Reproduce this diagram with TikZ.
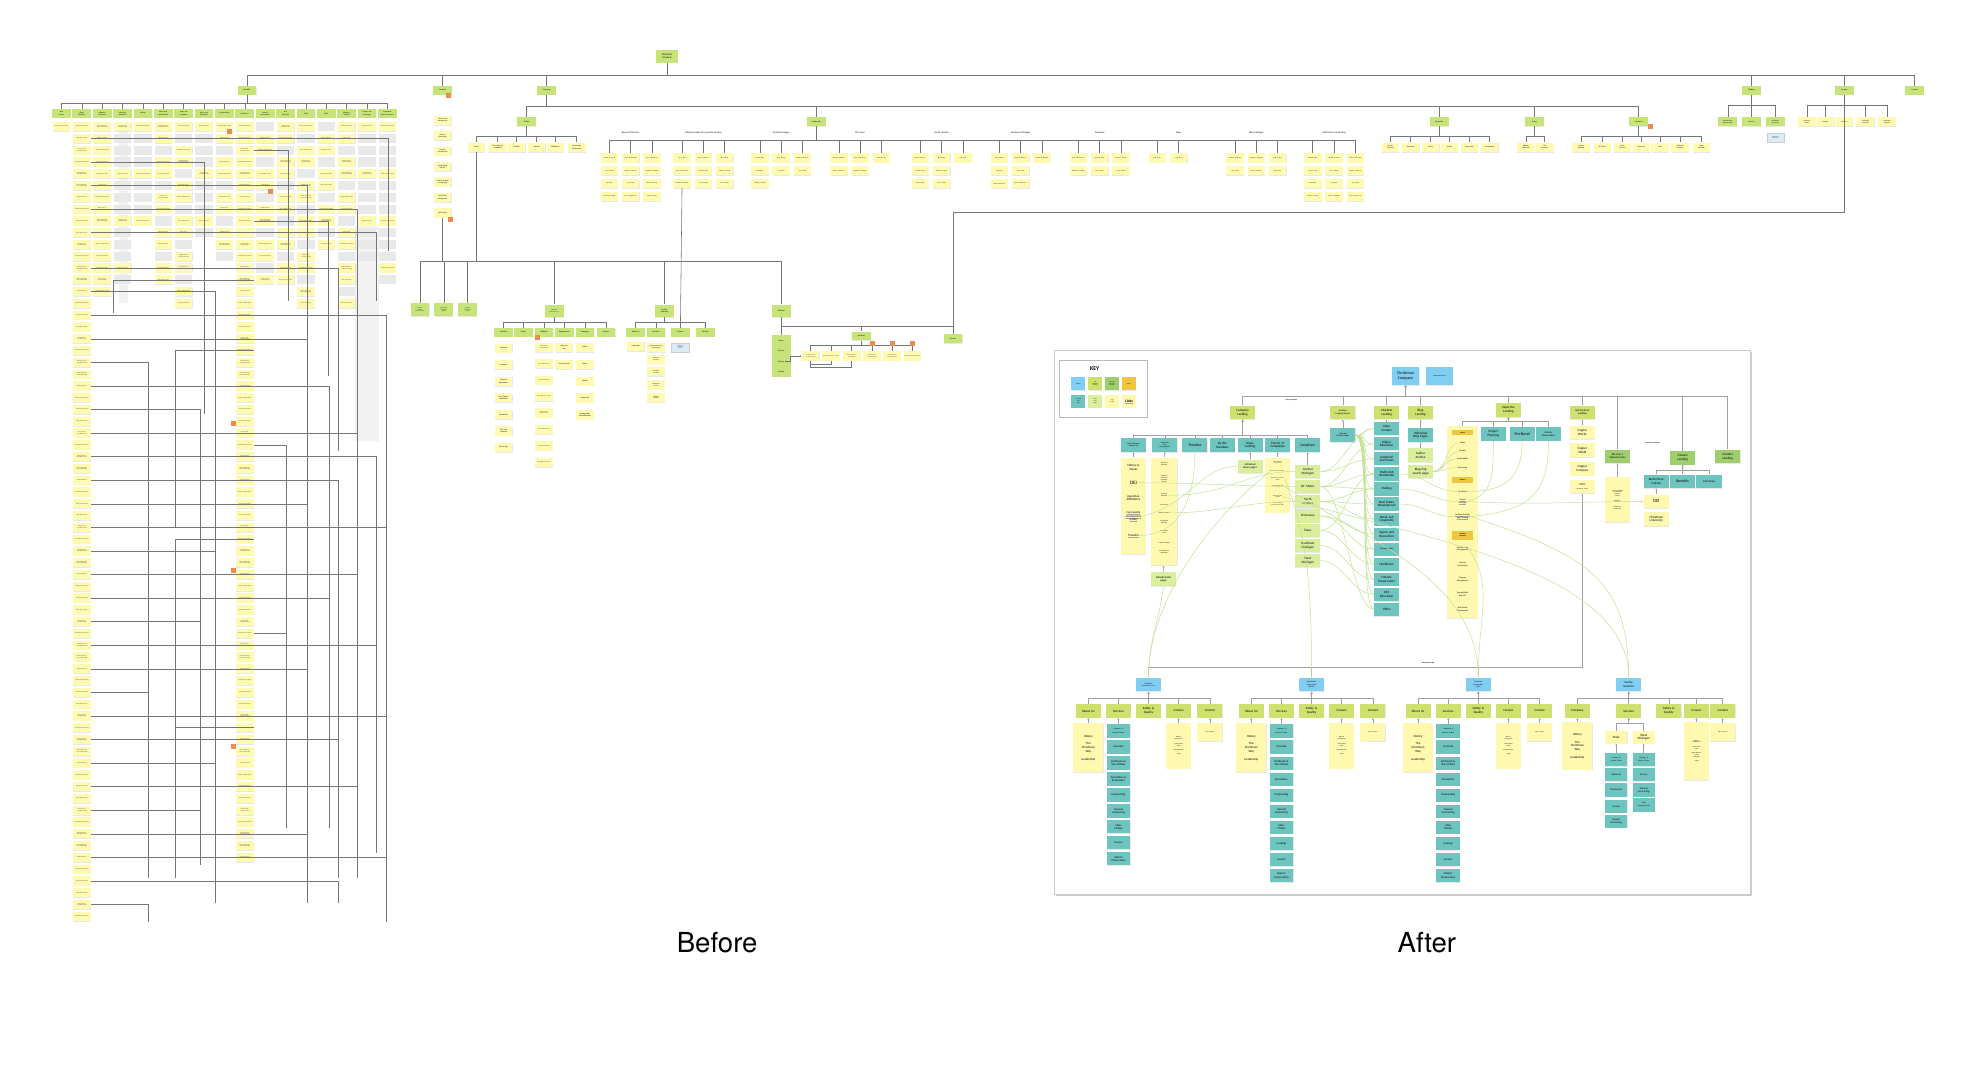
\documentclass[tikz,border=0pt]{standalone}
\usepackage{fontspec}
\setmainfont{Carlito}
\newfontfamily\captionfont{TeX Gyre Heros}
\usetikzlibrary{positioning,shadows,arrows.meta}
\definecolor{webblue}{RGB}{128,206,242}
\definecolor{toplime}{RGB}{206,224,110}
\definecolor{secgreen}{RGB}{158,206,110}
\definecolor{headgold}{RGB}{238,198,66}
\definecolor{pageteal}{RGB}{110,196,190}
\definecolor{thirdgreen}{RGB}{218,238,158}
\definecolor{contentyellow}{RGB}{255,249,176}
\definecolor{oldgreen}{RGB}{198,228,122}
\definecolor{noteyellow}{RGB}{255,250,178}
\definecolor{blankgray}{RGB}{233,233,233}
\definecolor{flagorange}{RGB}{236,140,78}
\definecolor{linkgreen}{RGB}{196,226,150}
\definecolor{wiregray}{RGB}{160,160,160}
\definecolor{oldline}{RGB}{118,118,118}
\definecolor{noticeblue}{RGB}{220,236,246}
\newcommand\thinul[1]{\setbox0=\hbox{#1}\leavevmode\rlap{\color{black!35}\rule[-0.18\ht0]{\wd0}{0.06\ht0}}\box0}

\begin{document}
\begin{tikzpicture}[x=1pt, y=-1pt,
	every node/.style={inner sep=0.3pt, align=center},
	wire/.style={draw=wiregray, line width=0.5pt},
	oldwire/.style={draw=oldline, line width=0.45pt},
	link/.style={draw=linkgreen, line width=0.4pt},
	uptip/.style={-{Stealth[length=1.5pt,width=1.5pt]}},
	paper/.style={drop shadow={shadow xshift=0.15pt, shadow yshift=-0.5pt, opacity=0.18}},
	oldnav/.style={paper, fill=oldgreen, minimum width=15, minimum height=7, text width=14.4, font=\fontsize{1.6}{1.9}\selectfont},
	oldnote/.style={paper, fill=noteyellow, minimum width=14, minimum height=7.4, text width=13.4, font=\fontsize{0.9}{1.1}\selectfont},
	oldblank/.style={fill=blankgray, minimum width=14, minimum height=7.4},
	flag/.style={fill=flagorange, minimum width=4, minimum height=4, inner sep=0pt},
	newnode/.style={paper, minimum width=20, minimum height=11, text width=19.4, font=\fontsize{2.6}{3}\selectfont},
	website/.style={newnode, fill=webblue},
	topland/.style={newnode, fill=toplime},
	secland/.style={newnode, fill=secgreen},
	stdpage/.style={newnode, fill=pageteal},
	thirdpage/.style={newnode, fill=thirdgreen},
	pagetext/.style={newnode, fill=contentyellow},
	headtag/.style={fill=headgold, minimum width=17, minimum height=4.5, text width=16.4, font=\fontsize{1.2}{1.4}\selectfont\bfseries},
	keychip/.style={paper, minimum width=11, minimum height=10, text width=10.4, font=\fontsize{1.1}{1.3}\selectfont},
	listtext/.style={font=\fontsize{1.7}{2}\selectfont},
	tinytext/.style={font=\fontsize{1.1}{1.3}\selectfont}]

\fill[white] (0,0) rectangle (1568,849);
\useasboundingbox (0,0) rectangle (1568,849);

\fill[blankgray!60] (95,98) rectangle (102,242);
\fill[blankgray!60] (283,180) rectangle (302,352);

\node[oldnav, minimum width=17, minimum height=10, text width=16, font=\fontsize{2}{2.4}\selectfont] (root) at (532,45) {Christman\\Company};
\node[oldnav] (portfolio) at (197,72) {Portfolio};
\node[oldnav] (oldservices) at (353,72) {Services};
\node[oldnav] (company) at (436,72) {Company};
\node[oldnav] (bidding) at (1397,72) {Bidding};
\node[oldnav] (careers) at (1471,72) {Careers};
\node[oldnav] (contact) at (1527,72) {Contact};
\coordinate (rootbus) at (532,60);
\foreach \n in {portfolio,oldservices,company,bidding,careers,contact}
	\draw[oldwire] (root) -- (rootbus) -| (\n);

\coordinate (pfbus) at (197,82);
\foreach \lbl [count=\i] in {Data\\Centers, Higher\\Education, Industrial\\and Power, Multi-Unit\\Residential, Parking, Real Estate\\Development, Retail and\\Hospitality, Sports and\\Recreation, Transportation, Healthcare, Historic\\Preservation, K12\\Education, Office, Public, Religious/\\Cultural, Science and\\Technology, Sustainable\\High Performance}{
	\node[oldnav, font=\fontsize{1.4}{1.7}\selectfont] (pf\i) at ({49+16.25*(\i-1)},90.5) {\lbl};
	\draw[oldwire] (portfolio) -- (pfbus) -| (pf\i);
}
\foreach \col/\n/\mix in {1/1/0, 2/68/0, 3/15/0, 4/14/2, 5/9/2, 6/14/1, 7/16/1, 8/10/2, 9/12/1, 10/63/0, 11/14/1, 12/14/1, 13/16/1, 14/11/1, 15/16/1, 16/12/2, 17/14/2}{
	\foreach \row in {1,...,\n}{
		\pgfmathtruncatemacro\ga{mod(\row+\col,3)==0}
		\pgfmathtruncatemacro\gb{mod(\row,4)!=1}
		\pgfmathtruncatemacro\isgray{(\mix==1)*\ga+(\mix==2)*\gb}
		\pgfmathsetmacro\pname{{"Central Michigan University Science Building","Michigan State University Residence Hall","Grand Rapids Public Museum","Lansing Community College Campus","Detroit Medical Campus","State Capitol Restoration","Northern Michigan Hospital","Regional Data Center"}[int(mod(\row*7+\col*3,8))]}
		\ifnum\isgray=1
			\node[oldblank] (pf\col-\row) at ({49+16.25*(\col-1)},{101+9.4*(\row-1)}) {};
		\else
			\node[oldnote] (pf\col-\row) at ({49+16.25*(\col-1)},{101+9.4*(\row-1)}) {\pname};
		\fi
	}
}
\foreach \row/\xe/\ye in {2/310/200, 4/163/330, 6/245/300, 8/285/420, 10/300/240, 13/270/360, 15/172/520, 17/308/735, 19/245/720, 21/118/690, 23/263/660, 25/160/690, 27/285/700, 29/300/650, 31/270/700, 33/245/560, 35/308/600, 37/172/720, 39/285/640, 41/263/600, 43/160/620, 45/300/680, 47/245/700, 49/118/700, 51/308/720, 53/270/690, 55/172/690, 57/285/700, 59/160/690, 61/245/720, 63/308/735, 65/270/720, 67/118/735}
	\draw[oldwire] (pf2-\row.east) -| (\xe,\ye);
\foreach \row/\xe/\ye in {3/230/240, 9/262/300, 14/90/250, 20/140/420, 28/228/520, 36/140/600, 44/228/660, 52/140/700}
	\draw[oldwire] (pf10-\row.east) -| (\xe,\ye);

\foreach \lbl [count=\i] in {Construction\\Management, General\\Contracting, Program\\Management, Design/Build\\and EPC, Facilities Analysis\\and Planning, Real Estate\\Development, Self-Perform}
	\node[oldnote, font=\fontsize{1.4}{1.7}\selectfont] (svc\i) at (353,{96+12.3*(\i-1)}) {\lbl};

\node[oldnav] (profile) at (420,97) {Profile};
\node[oldnav] (leadership) at (651,97) {Leadership};
\node[oldnav] (expertise) at (1148,97) {Expertise};
\node[oldnav] (news) at (1224,97) {News};
\node[oldnav] (oldlocations) at (1307,97) {Locations};
\coordinate (cobus0) at (436,84.5);
\foreach \n in {profile,leadership,expertise,news,oldlocations}
	\draw[oldwire] (company) -- (cobus0) -| (\n);

\coordinate (prbus) at (420,109);
\foreach \lbl/\x/\id in {Values/380/values, Our Family of\\Companies/397/ourfamily, Timeline/412/oldtimeline, Awards/428/awards, Affiliations/443/affil, Community\\Involvement/460/community}{
	\node[oldnote, font=\fontsize{1.5}{1.8}\selectfont] (\id) at (\x,117.5) {\lbl};
	\draw[oldwire] (profile) -- (prbus) -| (\id);
}
\coordinate (exbus0) at (1148,109);
\foreach \lbl/\x/\id in {Project\\Planning/1109/oex1, Innovation/1125/oex2, Safety/1141/oex3, Quality/1156/oex4, Partnership/1172/oex5, Sustainability/1188/oex6}{
	\node[oldnote, font=\fontsize{1.4}{1.7}\selectfont] (\id) at (\x,117.5) {\lbl};
	\draw[oldwire] (expertise) -- (exbus0) -| (\id);
}
\coordinate (nwbus0) at (1224,109);
\foreach \lbl/\x/\id in {Building\\Healthcare/1217/onw1, The\\Essentials/1232/onw2}{
	\node[oldnote, font=\fontsize{1.4}{1.7}\selectfont] (\id) at (\x,117.5) {\lbl};
	\draw[oldwire] (news) -- (nwbus0) -| (\id);
}
\coordinate (lcbus0) at (1307,109);
\foreach \lbl/\x/\id in {Central\\Michigan/1261/olc1, DC Metro/1278/olc2, North\\Carolina/1294/olc3, Tennessee/1309/olc4, Texas/1324/olc5, Southeast\\Michigan/1340/olc6, West\\Michigan/1357/olc7}{
	\node[oldnote, font=\fontsize{1.4}{1.7}\selectfont] (\id) at (\x,117.5) {\lbl};
	\draw[oldwire] (oldlocations) -- (lcbus0) -| (\id);
}
\coordinate (bdbus0) at (1397,84);
\foreach \lbl/\x/\id in {Subcontractor\\Opportunities/1378/obd1, Diversity/1397/obd2, Disciplines\\and Forms/1416/obd3}{
	\node[oldnav, font=\fontsize{1.3}{1.6}\selectfont] (\id) at (\x,97) {\lbl};
	\draw[oldwire] (bidding) -- (bdbus0) -| (\id);
}
\node[oldnote, fill=noticeblue, draw=gray!40, line width=0.2pt] (bidportal) at (1416,110) {Subcontractor\\Prequalification};
\coordinate (crbus0) at (1471,84);
\foreach \lbl/\x/\id in {Christman\\Culture/1441/ocr1, Benefits/1456/ocr2, Diversity/1471/ocr3, Christman\\University/1488/ocr4, Internship\\Program/1505/ocr5}{
	\node[oldnote, font=\fontsize{1.3}{1.6}\selectfont] (\id) at (\x,97) {\lbl};
	\draw[oldwire] (careers) -- (crbus0) -| (\id);
}

\coordinate (ldbus) at (651,112);
\foreach \cx/\lbl/\counts [count=\g] in {503/Board of Directors/{4,4,4}, 561/Industry Leaders \& Corporate Services/{3,3,3}, 623/Central Michigan/{3,2,2}, 686/DC Metro/{2,2,1}, 751/North Carolina/{3,3,1}, 814/Southeast Michigan/{3,3,1}, 877/Tennessee/{2,2,2}, 940/Texas/{1,1}, 1002/West Michigan/{2,2,2}, 1064/Self-Perform Leadership/{4,4,4}}{
	\node[font=\fontsize{1.9}{2.2}\selectfont] (ldlabel\g) at (\cx,106) {\lbl};
	\foreach \n [count=\k] in \counts {
		\foreach \row in {1,...,\n}{
			\pgfmathsetmacro\pname{{"Steven R. Roznowski","Douglas L. Parker P.E.","Jay H. Smith","Ryan J. Anderson P.E.","Matthew T. Chappelle","Marty B. Gibbs P.E.","Ronald D. Staley","Sean M. Jagels","Brian Kayser","Anthony A. Paschal","Troy E. Mueller","Craig Smith"}[int(mod(\g*5+\k*3+\row,12))]}
			\node[oldnote, font=\fontsize{1.1}{1.3}\selectfont] (ld-\g-\k-\row) at ({\cx+17*(\k-2)},{126+10.2*(\row-1)}) {\pname};
		}
		\draw[oldwire] (leadership) -- (ldbus) -| (ld-\g-\k-1);
	}
}

\coordinate (fambus) at (380,208);
\node[oldnav, minimum height=10, font=\fontsize{1}{1.2}\selectfont] (cbig) at (335,247) {Christman\\Building\\Innovation Group};
\node[oldnav, minimum height=10, font=\fontsize{1}{1.2}\selectfont] (dmacold) at (354,247) {Mid-Atlantic\\Construction\\(DMAC)};
\node[oldnav, minimum height=10, font=\fontsize{1}{1.2}\selectfont] (csciold) at (373,247) {Southeast\\Construction\\(CSCI)};
\node[oldnav, minimum height=10, font=\fontsize{1.1}{1.3}\selectfont] (cciold) at (442,248) {Christman\\Constructors, Inc.};
\node[oldnav, minimum height=10] (fsold) at (530,248) {Facility\\Solutions};
\node[oldnav, minimum height=10] (millwork) at (623,248) {Millwork};
\foreach \n in {cbig,dmacold,csciold,cciold,fsold,millwork}
	\draw[oldwire] (values) -- (fambus) -| (\n);
\draw[oldwire] (svc7) |- (fambus);

\coordinate (ccibus0) at (442,257);
\foreach \lbl/\x/\id in {Services/401.6/osvc, Safety/417.3/osafety, Portfolio/433.8/oportfolio, Employment/450/oemploy, Company/466.5/ocompany, Contact/483.3/ocontact}{
	\node[oldnav] (\id) at (\x,265) {\lbl};
	\draw[oldwire] (cciold) -- (ccibus0) -| (\id);
}
\foreach \lbl [count=\i] in {Concrete, Carpentry, Concrete\\Restoration, Mass Timber\\Installation, Demolition, Civil and\\Sitework, Service Ops}
	\node[oldnote, font=\fontsize{1.5}{1.8}\selectfont] (osvc\i) at (401.6,{277.7+13.2*(\i-1)}) {\lbl};
\foreach \i in {1,...,8}{
	\pgfmathsetmacro\pname{{"Grand Rapids Public Museum","Lansing Community College Campus","Detroit Medical Campus","State Capitol Restoration"}[int(mod(\i,4))]}
	\node[oldnote] (oport\i) at (433.8,{277+13.1*(\i-1)}) {\pname};
}
\node[oldnote, font=\fontsize{1.5}{1.8}\selectfont] (oemploy1) at (450,277) {Apply for\\Jobs};
\node[oldnote, font=\fontsize{1.3}{1.6}\selectfont] (oemploy2) at (450,290.5) {Apprenticeships};
\foreach \lbl [count=\i] in {History, Values, Quality, Leadership, Memberships\\and Affiliations}
	\node[oldnote, font=\fontsize{1.5}{1.8}\selectfont] (ocomp\i) at (466.5,{277+13.5*(\i-1)}) {\lbl};

\coordinate (fsbus0) at (530,257);
\foreach \lbl/\x/\id in {About Us/507/ofsabout, Services/523.2/ofssvc, Careers/542.6/ofscareers, Contact/562.5/ofscontact}{
	\node[oldnav] (\id) at (\x,265) {\lbl};
	\draw[oldwire] (fsold) -- (fsbus0) -| (\id);
}
\node[oldnote, font=\fontsize{1.4}{1.7}\selectfont] (ofslead) at (507,276.3) {Leadership};
\foreach \lbl/\y [count=\i] in {Mechanical Electrical\\and Plumbing/277, Electrical\\Services/286.5, Plumbing\\Services/296.5, Mechanical\\Services/307, Welding\\Services/317}
	\node[oldnote, font=\fontsize{1.2}{1.4}\selectfont] (ofssvc\i) at (523.2,\y) {\lbl};
\node[oldnote, fill=noticeblue, draw=gray!40, line width=0.2pt] (ofsopen) at (542.6,277) {Current Facility\\Solutions\\Openings};
\draw[oldwire] (ld-2-1-3) -- (ofscareers);

\node[oldnav, minimum height=33] (mwlist) at (623,284) {};
\foreach \lbl/\y [count=\i] in {About/272, Services/280, Projects/288.3, Contact/296.2}
	\node[font=\fontsize{1.6}{1.9}\selectfont] (mw\i) at (623,\y) {\lbl};
\coordinate (mwbus) at (623,260.5);
\node[oldnav] (mwportfolio) at (687,268) {Portfolio};
\node[oldnav] (careers2) at (760,270) {Careers};
\draw[oldwire] (millwork) -- (mwlist);
\draw[oldwire] (millwork) -- (mwbus) -| (mwportfolio);
\draw[oldwire] (millwork) -- (mwbus) -| (careers2);
\coordinate (crdrop) at (1471,169);
\draw[oldwire] (careers) -- (crdrop) -| (careers2);
\coordinate (mwpbus) at (687,275.7);
\foreach \x [count=\i] in {646.5,662.8,679.3,695.5,711.5,727.7}{
	\pgfmathsetmacro\pname{{"Grand Rapids Public Museum casework","Lansing Community College interiors","Detroit Medical Campus millwork","State Capitol Restoration woodwork"}[int(mod(\i,4))]}
	\node[oldnote] (mwp\i) at (\x,284) {\pname};
	\draw[oldwire] (mwportfolio) -- (mwpbus) -| (mwp\i);
}
\draw[oldwire, uptip] (mw3.east) -- ++(4,0) |- (mwp1.west);
\draw[oldwire] (mwp1.south) -- ++(0,3) -| (mwp2.south);
\draw[oldwire] (mwp1.south) -- ++(0,5) -| (mwp3.south);

\foreach \x/\y [count=\i] in {358/76, 1316/101, 183/105, 216/153, 186/338, 186/455, 186/595, 359/175, 429/269, 695.5/274, 711.5/274, 727.7/274}
	\node[flag] (flag\i) at (\x,\y) {};

\node[font=\captionfont\fontsize{22}{26}\selectfont] (beforelabel) at (572,752) {Before};
\node[font=\captionfont\fontsize{22}{26}\selectfont] (afterlabel) at (1138,752) {After};

\node[draw=gray!40, fill=white, minimum width=555, minimum height=434, drop shadow={opacity=0.4, shadow xshift=1.2pt, shadow yshift=-1.8pt}] (afterframe) at (1118.5,496) {};

\node[draw=gray!55, fill=white, minimum width=70, minimum height=46] (keybox) at (880,310) {};
\node[font=\fontsize{4.6}{5}\selectfont\bfseries] (keytitle) at (873,294) {KEY};
\node[keychip, fill=webblue] (key1) at (860,306) {Website};
\node[keychip, fill=toplime] (key2) at (873.5,306) {Top\\Navigation\\Landings};
\node[keychip, fill=secgreen] (key3) at (887,306) {Secondary\\Navigation\\Landings};
\node[keychip, fill=headgold] (key4) at (900.5,306) {Header};
\node[keychip, fill=pageteal] (key5) at (860,320) {Standard\\land\\page};
\node[keychip, fill=thirdgreen] (key6) at (873.5,320) {Third\\level\\page};
\node[keychip, fill=contentyellow] (key7) at (887,320) {Page\\Content};
\node[keychip, fill=contentyellow, font=\fontsize{3}{3.4}\selectfont\bfseries] (key8) at (900.5,320) {\thinul{Links}};

\node[website, minimum width=22, minimum height=14, text width=21, font=\fontsize{3.2}{3.7}\selectfont] (site) at (1121,300) {Christman\\Company};
\node[website, minimum width=21, minimum height=14, font=\fontsize{1.4}{1.6}\selectfont] (siteurl) at (1148,300) {christmanco.com};
\coordinate (mainbus) at (1121,316);
\node[font=\fontsize{1.3}{1.5}\selectfont\bfseries] (mainnav) at (1030,319) {Main Navigation};
\node[font=\fontsize{1.3}{1.5}\selectfont\bfseries] (secnav) at (1318,353) {Secondary Navigation};

\node[topland] (companyland) at (991,329) {Company\\Landing};
\node[topland, font=\fontsize{1.8}{2.1}\selectfont] (portland) at (1071,329) {Portfolio\\Landing/Search};
\node[topland] (marketland) at (1106,329) {Markets\\Landing};
\node[topland] (blogland) at (1133,329) {Blog\\Landing};
\node[topland] (expland) at (1203,327) {Expertise\\Landing};
\node[topland, font=\fontsize{2.2}{2.6}\selectfont] (selfland) at (1262,329) {Self-Perform\\Landing};
\node[secland, font=\fontsize{2.2}{2.6}\selectfont] (subland) at (1290,364) {Become a\\Subcontractor};
\node[secland] (careerland) at (1342,365) {Careers\\Landing};
\node[secland] (contactland) at (1378,364) {Contact\\Landing};
\foreach \n in {companyland,portland,marketland,blogland,expland,selfland,subland,careerland,contactland}
	\draw[wire, uptip] (\n) |- (mainbus) -- (site);

\coordinate (cobus) at (991,347);
\node[stdpage, font=\fontsize{1.7}{2}\selectfont] (ourco) at (904,355) {Our Company\\(About us)};
\node[stdpage, font=\fontsize{1.4}{1.7}\selectfont] (leadland) at (929,355) {Leadership\\Team\\Landing/Search};
\node[stdpage, font=\fontsize{3}{3.4}\selectfont] (timeline) at (953,355) {Timeline};
\node[stdpage] (bynumbers) at (975,355) {By the\\Numbers};
\node[stdpage] (newsland) at (997,355) {News\\Landing};
\node[stdpage] (familyco) at (1019,355) {Family of\\Companies};
\node[stdpage, font=\fontsize{3}{3.4}\selectfont] (locations) at (1043,355) {Locations};
\foreach \n in {ourco,leadland,timeline,bynumbers,newsland,familyco,locations}
	\draw[wire, uptip] (\n) |- (cobus) -- (companyland);

\node[pagetext, minimum height=77] (aboutbox) at (904,403.5) {};
\node[font=\fontsize{2.5}{2.9}\selectfont] (ab1) at (904,373) {History \&\\Values};
\node[font=\fontsize{4}{4.4}\selectfont] (ab2) at (904,385) {DEI};
\node[font=\fontsize{2.5}{2.9}\selectfont] (ab3) at (904,397) {Awards \&\\Affiliations};
\node[font=\fontsize{2.3}{2.7}\selectfont] (ab4) at (904,412) {\thinul{Community}\\\thinul{Involvement}\\\thinul{(cards)}};
\node[font=\fontsize{2.5}{2.9}\selectfont] (ab5) at (904,427) {\thinul{Timeline}};
\draw[wire, uptip] (aboutbox) -- (ourco);

\node[pagetext, minimum width=21, minimum height=86] (leadbox) at (928.5,408) {};
\foreach \lbl/\y [count=\i] in {• Board of\\Directors/370, • Industry\\Leaders \&\\Corporate\\Services/382, • Central\\Michigan/395, • DC Metro/403, • North Carolina/409, • Southeast\\Michigan/416, • Tennessee\\Texas/424, • West Michigan/433, • Self-Perform\\Leadership/440}
	\node[font=\fontsize{1.3}{1.6}\selectfont] (ls\i) at (928.5,\y) {\lbl};
\draw[wire, uptip] (leadbox) -- (leadland);
\node[thirdpage, font=\fontsize{2.2}{2.6}\selectfont] (bio) at (928,462) {Individual Bio\\pages};
\draw[wire, uptip] (bio) -- (leadbox);

\node[thirdpage, font=\fontsize{2.2}{2.6}\selectfont] (inews) at (997,372) {Individual\\News pages};
\draw[wire, uptip] (inews) -- (newsland);
\node[pagetext, minimum height=44] (familybox) at (1019,387) {};
\foreach \lbl/\y [count=\i] in {Christman Capital\\Development/369, Christman Constructors Inc./376, Mid-Atlantic Construction\\(DMAC)/382, Southeast Construction\\(CSCI)/388, Christman Facility\\Solutions/396, Christman Building\\Innovation Group (CBIG)/402}
	\node[font=\fontsize{1}{1.2}\selectfont] (fm\i) at (1019,\y) {\lbl};
\draw[wire, uptip] (familybox) -- (familyco);
\foreach \lbl/\y [count=\i] in {Central\\Michigan/376, DC Metro/388, North\\Carolina/400, Tennessee/411.5, Texas/423, Southeast\\Michigan/435, West\\Michigan/447}
	\node[thirdpage, minimum height=10.5] (loc\i) at (1043,\y) {\lbl};
\draw[wire, uptip] (loc1) -- (locations);

\node[stdpage, font=\fontsize{1.6}{1.9}\selectfont] (ipp) at (1071,347) {Individual\\Portfolio Pages};
\draw[wire, uptip] (ipp) -- (portland);
\foreach \lbl [count=\i] in {Data\\Centers, Higher\\Education, Industrial\\and Power, Multi-Unit\\Residential, Parking, Real Estate\\Development, Retail and\\Hospitality, Sports and\\Recreation, {\fontsize{1.8}{2}\selectfont Transportation}, Healthcare, Historic\\Preservation, K12\\Education, Office}
	\node[stdpage, minimum height=10.5] (mk\i) at (1106,{342+12*(\i-1)}) {\lbl};
\draw[wire] (mk1) -- (marketland);

\node[stdpage] (ibp) at (1133,347) {Individual\\Blog Pages};
\node[thirdpage] (author) at (1133,363) {Author\\Archive};
\node[thirdpage] (blogsearch) at (1133,376) {Blog/Tag\\search page};
\draw[wire, uptip] (ibp) -- (blogland);
\draw[wire, uptip] (author) -- (ibp);

\coordinate (expbus) at (1203,336);
\node[stdpage] (pp) at (1191,346) {Project\\Planning};
\node[stdpage, font=\fontsize{3.2}{3.6}\selectfont] (pb) at (1214,346) {Pre-Bond};
\node[stdpage, font=\fontsize{2}{2.4}\selectfont] (hp) at (1235,346) {Historic\\Preservation};
\node[pagetext, minimum width=25, minimum height=153] (expbox) at (1166.5,416.5) {};
\foreach \n in {pp,pb,hp,expbox}
	\draw[wire, uptip] (\n) |- (expbus) -- (expland);
\node[headtag] (ex1) at (1166.5,345) {VALUES};
\node[listtext] (ex2) at (1166.5,353) {Safety};
\node[listtext] (ex3) at (1166.5,360) {Quality};
\node[listtext] (ex4) at (1166.5,366) {Sustainability};
\node[listtext] (ex5) at (1166.5,373) {Partnering};
\node[headtag] (ex6) at (1166.5,383) {SUPPORT};
\node[listtext] (ex7) at (1166.5,392) {Pre-Bond};
\node[listtext] (ex8) at (1166.5,400) {\thinul{Project}\\\thinul{Planning}};
\node[listtext] (ex9) at (1166.5,412) {\thinul{Facilities Analysis}\\\thinul{and Planning}};
\node[headtag, minimum height=7] (ex10) at (1166.5,427) {DELIVERY\\METHODS};
\node[listtext] (ex11) at (1166.5,438) {Construction\\Management};
\node[listtext] (ex12) at (1166.5,450) {General\\Contracting};
\node[listtext] (ex13) at (1166.5,462) {Program\\Management};
\node[listtext] (ex14) at (1166.5,474) {Design/Build\\and EPC};
\node[listtext] (ex15) at (1166.5,486) {Real Estate\\Development};

\foreach \lbl/\y [count=\i] in {Copper\\Works/345, Copper\\Shield/359, Copper\\Compass/374, {\fontsize{1.2}{1.4}\selectfont Christman\\Building\\Innovation Group}/388}
	\node[pagetext] (sp\i) at (1262,\y) {\lbl};
\draw[wire, uptip] (sp1) -- (selfland);

\node[pagetext, minimum height=36, font=\fontsize{1.2}{1.5}\selectfont] (subbox) at (1290,398.5) {Get Pre-qualified\\(Prequalified)\\Regional\\Contacts\\[2pt]Commit to\\Diversity\\[2pt]Documents\\\& Bid Portal};
\draw[wire, uptip] (subbox) -- (subland);

\coordinate (crbus) at (1342,375);
\node[stdpage] (bmc) at (1321,384) {Build More\\Culture};
\node[stdpage, font=\fontsize{3}{3.4}\selectfont] (benefits) at (1342,384) {Benefits};
\node[stdpage, font=\fontsize{2.2}{2.6}\selectfont] (interns) at (1363,384) {Internships};
\foreach \n in {bmc,benefits,interns}
	\draw[wire, uptip] (\n) |- (crbus) -- (careerland);
\node[pagetext, font=\fontsize{3.6}{4}\selectfont] (dei) at (1321,400) {DEI};
\node[pagetext] (cu) at (1321,414) {Christman\\University};
\draw[wire, uptip] (dei) -- (bmc);

\node[font=\fontsize{1.3}{1.5}\selectfont\bfseries] (indpages) at (1139,529) {Independent Pages};
\coordinate (indbus) at (1262,532);
\node[website, font=\fontsize{1.5}{1.8}\selectfont] (cci) at (916,546) {Christman\\Constructors, Inc.};
\node[website, font=\fontsize{1.5}{1.8}\selectfont] (dmac) at (1046,546) {Mid-Atlantic\\Construction\\(DMAC)};
\node[website, font=\fontsize{1.5}{1.8}\selectfont] (csci) at (1179,546) {Southeast\\Construction\\(CSCI)};
\node[website, font=\fontsize{2.3}{2.7}\selectfont] (fsol) at (1299,546) {Facility\\Solutions};
\foreach \n in {cci,dmac,csci}
	\draw[wire] (sp4) -- (indbus) -| (\n);

\foreach \co/\cx in {cci/916, dmac/1046, csci/1179}{
	\coordinate (\co bus) at (\cx,557);
	\foreach \lbl/\dx/\id in {About Us/-48/about, Services/-24/svc, Safety \&\\Quality/0/safety, Careers/24/careers, Contact/49/contact}{
		\node[topland] (\co-\id) at ({\cx+\dx},567) {\lbl};
		\draw[wire, uptip] (\co-\id) |- (\co bus) -- (\co);
	}
	\node[pagetext, minimum width=24, minimum height=39, font=\fontsize{2.5}{3}\selectfont] (\co-aboutbox) at ({\cx-48},596.5) {History\\[3pt]The\\Christman\\Way\\[3pt]Leadership};
	\draw[wire, uptip] (\co-aboutbox) -- (\co-about);
	\node[pagetext, minimum width=19, minimum height=36, font=\fontsize{1.2}{1.5}\selectfont] (\co-careerbox) at ({\cx+24},595) {Office \&\\Management\\[2pt]Union Skilled\\Trades\\[2pt]Apprenticeships\\[2pt]+ Apply};
	\draw[wire, uptip] (\co-careerbox) -- (\co-careers);
	\node[pagetext, minimum width=18, minimum height=14, font=\fontsize{1.1}{1.3}\selectfont] (\co-contactbox) at ({\cx+49},584) {Office Locations};
	\draw[wire, uptip] (\co-contactbox) -- (\co-contact);
}
\foreach \lbl [count=\i] in {{\fontsize{1.5}{1.8}\selectfont Carpentry \&\\General Trades}, Concrete, Earthwork \&\\Site Utilities, Demolition \&\\Restoration, Fireproofing, General\\Contracting, Mass\\Timber, Service, Historic\\Preservation}
	\node[stdpage, minimum width=19, text width=18.4, minimum height=10.5, font=\fontsize{2.2}{2.6}\selectfont] (cci-s\i) at (892,{583+12.75*(\i-1)}) {\lbl};
\draw[wire, uptip] (cci-s1) -- (cci-svc);
\foreach \co/\sx in {dmac/1022, csci/1155}{
	\foreach \lbl [count=\i] in {{\fontsize{1.5}{1.8}\selectfont Carpentry \&\\General Trades}, Concrete, Earthwork \&\\Site Utilities, Demolition, Fireproofing, General\\Contracting, Mass\\Timber, Coatings, Service, Historic\\Preservation}
		\node[stdpage, minimum width=19, text width=18.4, minimum height=10.5, font=\fontsize{2.2}{2.6}\selectfont] (\co-s\i) at (\sx,{583+12.8*(\i-1)}) {\lbl};
	\draw[wire, uptip] (\co-s1) -- (\co-svc);
}

\coordinate (fsbus) at (1299,557);
\foreach \lbl/\x/\id in {Company/1258/company, Services/1299/svc, Safety \&\\Quality/1331/safety, Careers/1353/careers, Contact/1374/contact}{
	\node[topland] (fs-\id) at (\x,567) {\lbl};
	\draw[wire, uptip] (fs-\id) |- (fsbus) -- (fsol);
}
\node[pagetext, minimum width=24, minimum height=38, font=\fontsize{2.5}{3}\selectfont] (fs-companybox) at (1258,595) {History\\[3pt]The\\Christman\\Way\\[3pt]Leadership};
\draw[wire, uptip] (fs-companybox) -- (fs-company);
\coordinate (fssvcbus) at (1299,577);
\node[pagetext, minimum width=18, text width=17.4, minimum height=10] (fs-texas) at (1289,588) {Texas};
\node[pagetext, minimum width=18, text width=17.4, minimum height=10] (fs-wmich) at (1311,588) {West\\Michigan};
\foreach \n in {fs-texas,fs-wmich}
	\draw[wire, uptip] (\n) |- (fssvcbus) -- (fs-svc);
\foreach \lbl/\y [count=\i] in {{\fontsize{1.4}{1.7}\selectfont Carpentry \&\\General Trades}/606, Electrical/618, Mechanical/630, Service/643, General\\Contracting/655}
	\node[stdpage, minimum width=18, text width=17.4, minimum height=10.5, font=\fontsize{2}{2.4}\selectfont] (fs-t\i) at (1289,\y) {\lbl};
\foreach \lbl/\y [count=\i] in {{\fontsize{1.4}{1.7}\selectfont Carpentry \&\\General Trades}/606, Service/618, General\\Contracting/630, {\fontsize{1.4}{1.7}\selectfont Labor\\Resourcing (MI)}/642}
	\node[stdpage, minimum width=18, text width=17.4, minimum height=10.5, font=\fontsize{2}{2.4}\selectfont] (fs-w\i) at (1311,\y) {\lbl};
\draw[wire, uptip] (fs-t1) -- (fs-texas);
\draw[wire, uptip] (fs-w1) -- (fs-wmich);
\node[pagetext, minimum width=19, minimum height=46, font=\fontsize{1.2}{1.5}\selectfont] (fs-careerbox) at (1353,599) {Office \&\\Management\\[2pt]Union Skilled\\Trades\\[2pt]Apprenticeships\\• Texas\\• Michigan\\[2pt]+ Apply};
\draw[wire, uptip] (fs-careerbox) -- (fs-careers);
\node[pagetext, minimum width=19, minimum height=14, font=\fontsize{1.1}{1.3}\selectfont] (fs-contactbox) at (1374,584) {Office Locations};
\draw[wire, uptip] (fs-contactbox) -- (fs-contact);

\foreach \i in {1,...,13}
	\draw[link] (ipp.east) .. controls +(12,0) and +(-12,0) .. (mk\i.west);
\foreach \a/\b in {1/1, 1/3, 2/2, 2/4, 2/5, 2/13, 3/6, 3/7, 4/8, 4/9, 5/10, 6/11, 7/12, 3/5, 5/4}
	\draw[link] (loc\a.east) .. controls +(18,0) and +(-18,0) .. (mk\b.west);
\draw[link] (ab2.east) .. controls +(50,0) and +(-40,0) .. (loc2.west);
\draw[link] (ls5.east) .. controls +(40,0) and +(-40,0) .. (loc3.west);
\draw[link] (ls3.east) .. controls +(50,0) and +(-40,0) .. (loc1.west);
\draw[link] (ab5.east) .. controls +(30,0) and +(0,40) .. (timeline.south);
\draw[link] (ab4.east) .. controls +(40,-10) and +(-30,0) .. (inews.west);
\draw[link] (bio.south) .. controls +(-4,30) and +(0,-30) .. (cci.north);
\draw[link] (fm2.west) .. controls +(-50,40) and +(0,-60) .. (cci.north);
\draw[link] (fm3.east) .. controls +(20,50) and +(0,-60) .. (dmac.north);
\draw[link] (fm4.east) .. controls +(60,40) and +(0,-80) .. (csci.north);
\draw[link] (fm5.east) .. controls +(90,30) and +(0,-90) .. (fsol.north);
\foreach \k in {2,...,5}
	\draw[link] (blogsearch.east) .. controls +(10,0) and +(-10,0) .. (ex\k.west);
\draw[link] (ex7.east) .. controls +(30,0) and +(0,30) .. (pb.south);
\draw[link] (ex8.east) .. controls +(20,-5) and +(0,30) .. (pp.south);
\draw[link] (ex9.east) .. controls +(50,-5) and +(0,40) .. (hp.south);
\draw[link, -{Stealth[length=2pt,width=2pt]}] (ex8.east) .. controls +(60,3) and +(-60,0) .. (dei.west);
\draw[link] (ex9.east) .. controls +(90,30) and +(0,-80) .. (fsol.north);
\draw[link] (ex11.east) .. controls +(20,30) and +(0,-50) .. (csci.north);
\draw[link] (mk4.east) .. controls +(20,0) and +(-20,0) .. (ex7.west);
\draw[link] (mk5.east) .. controls +(20,0) and +(-20,0) .. (ex8.west);
\draw[link] (mk6.east) .. controls +(20,0) and +(-20,0) .. (ex9.west);
\end{tikzpicture}
\end{document}
